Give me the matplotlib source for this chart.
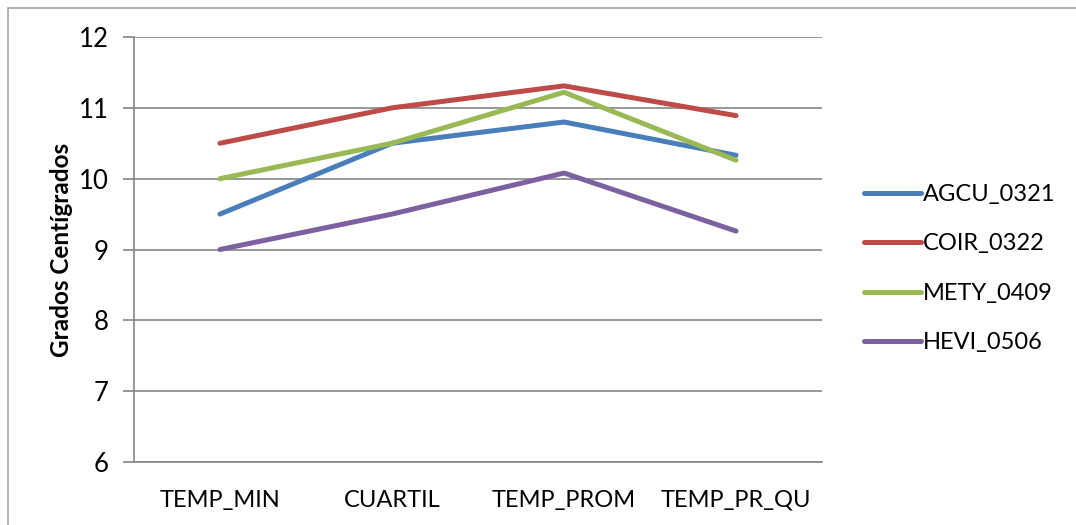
import matplotlib.pyplot as plt
from matplotlib.patches import Rectangle

categories = ["TEMP_MIN", "CUARTIL", "TEMP_PROM", "TEMP_PR_QU"]
series_names = ["AGCU_0321", "COIR_0322", "METY_0409", "HEVI_0506"]
agcu = [9.5, 10.5, 10.8, 10.33]
coir = [10.5, 11.0, 11.31, 10.89]
mety = [10.0, 10.5, 11.22, 10.26]
hevi = [9.0, 9.5, 10.08, 9.26]
y_ticks = [6, 7, 8, 9, 10, 11, 12]

colors = ["#4A7EBB", "#BE4B48", "#98B954", "#7D60A0"]

plt.rcParams['font.family'] = ['Lato', 'DejaVu Sans']

fig = plt.figure(figsize=(10.76, 5.25), dpi=100)
ax = fig.add_axes([0.1245, 0.12, 0.6395, 0.8095])

# outer chart border
fig.patches.append(Rectangle((8 / 1076, -0.01), 1.02, (525 - 8) / 525 + 0.01,
                             transform=fig.transFigure, fill=False,
                             edgecolor="#A6A6A6", linewidth=1.2))

x = [i + 0.5 for i in range(len(categories))]
for vals, name, c in zip([agcu, coir, mety, hevi], series_names, colors):
    ax.plot(x, vals, color=c, linewidth=3.6, solid_capstyle="round", label=name)

ax.set_xlim(0, 4)
ax.set_ylim(6, 12)
ax.set_yticks(y_ticks)
ax.set_yticklabels([str(v) for v in y_ticks], fontsize=18.5)
ax.set_xticks(x)
ax.set_xticklabels(categories, fontsize=17)
ax.tick_params(axis="x", length=0, pad=20)
ax.tick_params(axis="y", length=8, color="#868686", width=1.2, pad=10)
ax.yaxis.grid(True, color="#868686", linewidth=1.2)
ax.set_axisbelow(True)
for s in ["top", "right"]:
    ax.spines[s].set_visible(False)
for s in ["left", "bottom"]:
    ax.spines[s].set_color("#868686")
    ax.spines[s].set_linewidth(1.2)

ax.set_ylabel("Grados Centígrados", fontsize=17.5, fontweight="bold", labelpad=4)

ax.legend(loc="center left", bbox_to_anchor=(1.03, 0.455), frameon=False,
          fontsize=17, handlelength=2.4, handletextpad=0.1, labelspacing=1.2)

fig.savefig("out.png", dpi=100)
